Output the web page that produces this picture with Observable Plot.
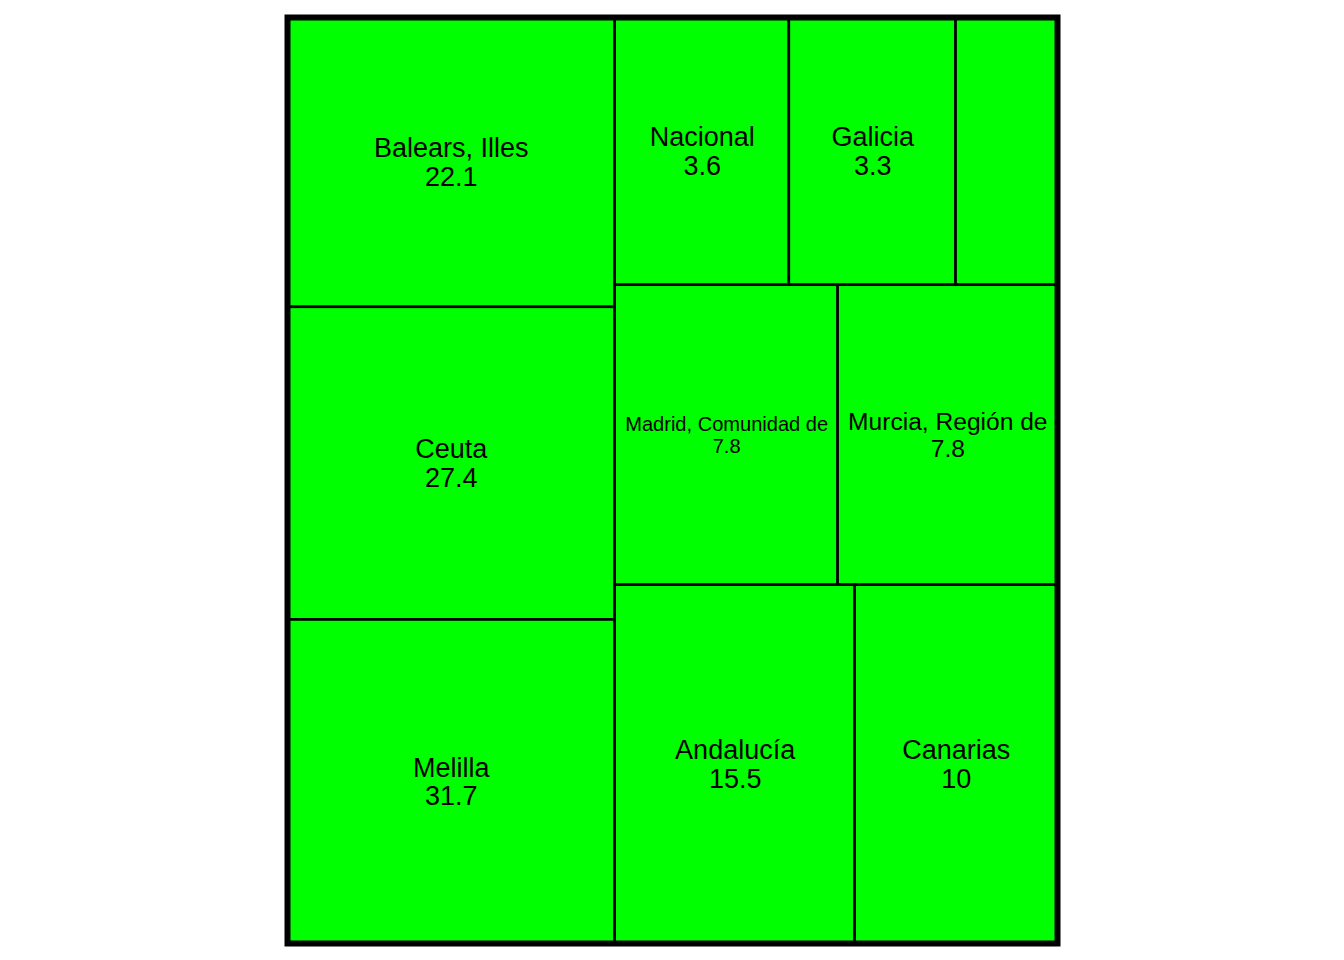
<!DOCTYPE html>
<html>
<head>
<meta charset="utf-8">
<script src="https://cdn.jsdelivr.net/npm/d3@7"></script>
<script src="https://cdn.jsdelivr.net/npm/@observablehq/plot@0.6"></script>
<style>
  html, body { margin: 0; padding: 0; background: #ffffff; }
  svg { display: block; }
</style>
</head>
<body>
<div id="chart"></div>
<script>
// ---- data ----
const regions = ["Balears, Illes", "Ceuta", "Melilla", "Nacional", "Galicia", "", "Madrid, Comunidad de", "Murcia, Región de", "Andalucía", "Canarias"];
const values  = [22.1, 27.4, 31.7, 3.6, 3.3, null, 7.8, 7.8, 15.5, 10];
const sizes   = [13.32, 14.37, 14.87, 6.54, 6.26, 3.81, 9.38, 9.23, 12.06, 10.17];

// ---- layout structure: columns, then rows, then tiles ----
const tiling = [[0, 1, 2], [[3, 4, 5], [6, 7], [8, 9]]];

function build(node) {
  return Array.isArray(node) ? {children: node.map(build)} : {i: node};
}
const root = d3.hierarchy(build(tiling)).sum(d => d.i != null ? sizes[d.i] : 0);
d3.treemap().tile(d3.treemapSliceDice).size([1, 1]).round(false)(root);

const tiles = root.leaves().map(l => ({
  name: regions[l.data.i],
  value: values[l.data.i],
  x0: l.x0, x1: l.x1, y0: l.y0, y1: l.y1
}));

const W = 1344, H = 960;
const mL = 287, mR = 287, mT = 17, mB = 17;
const plotW = W - mL - mR;
const FONT = '"Liberation Sans", Arial, sans-serif';
const BASE = 27;

const ctx = document.createElement("canvas").getContext("2d");
ctx.font = `${BASE}px ${FONT}`;
function labelText(d) { return d.value == null ? "" : `${d.name}\n${d.value}`; }
function fitSize(d) {
  const lines = labelText(d).split("\n");
  const wMax = d3.max(lines, s => ctx.measureText(s).width) || 1;
  const avail = (d.x1 - d.x0) * plotW * 0.91;
  return BASE * Math.min(1, avail / wMax);
}

const chart = Plot.plot({
  width: W,
  height: H,
  marginLeft: mL, marginRight: mR, marginTop: mT, marginBottom: mB,
  x: {domain: [0, 1], axis: null},
  y: {domain: [0, 1], reverse: true, axis: null},
  style: {background: "#ffffff", fontFamily: FONT},
  marks: [
    Plot.rect(tiles, {x1: "x0", x2: "x1", y1: "y0", y2: "y1", fill: "#00ff00", stroke: "#000000", strokeWidth: 2.6}),
    Plot.text(tiles.filter(d => d.value != null), {
      x: d => (d.x0 + d.x1) / 2,
      y: d => (d.y0 + d.y1) / 2,
      text: labelText,
      fontSize: fitSize,
      lineHeight: 1.07,
      fill: "#000000",
      textAnchor: "middle"
    }),
    Plot.frame({stroke: "#000000", strokeWidth: 6})
  ]
});
document.getElementById("chart").appendChild(chart);
</script>
</body>
</html>
